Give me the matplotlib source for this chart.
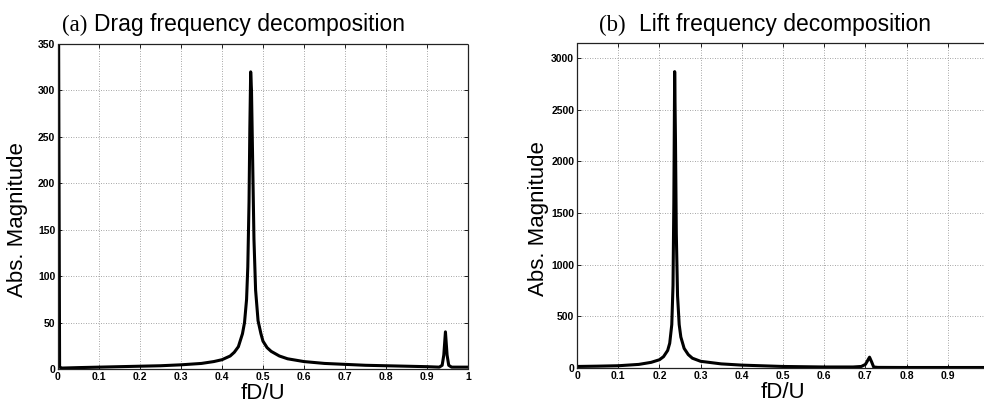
"""
Drag / lift frequency decomposition (FFT magnitude vs. fD/U)
"""

import matplotlib
matplotlib.use('Agg')
import matplotlib.pyplot as plt

# values
drag_fd = [0.0, 0.004, 0.01, 0.05, 0.1, 0.15, 0.2, 0.25, 0.3, 0.35, 0.38, 0.4,
           0.42, 0.43, 0.44, 0.45, 0.455, 0.46, 0.463, 0.466, 0.468, 0.47,
           0.472, 0.475, 0.478, 0.482, 0.488, 0.495, 0.5, 0.51, 0.52, 0.54,
           0.56, 0.6, 0.65, 0.7, 0.75, 0.8, 0.85, 0.9, 0.93, 0.937, 0.941,
           0.945, 0.949, 0.953, 0.96, 1.0]
drag_mag = [600, 2, 1, 1.5, 2, 2.5, 3, 3.5, 4.5, 6, 8, 10,
            14, 18, 24, 38, 50, 75, 110, 180, 260, 320,
            300, 220, 140, 85, 52, 38, 30, 23, 19, 14,
            11, 8, 6, 5, 4, 3.5, 3, 2.5, 2, 4, 15,
            40, 15, 4, 2, 2]

lift_fd = [0.0, 0.05, 0.1, 0.15, 0.18, 0.2, 0.21, 0.22, 0.225, 0.23, 0.233,
           0.235, 0.237, 0.239, 0.241, 0.244, 0.248, 0.252, 0.26, 0.27, 0.28,
           0.3, 0.35, 0.4, 0.5, 0.6, 0.67, 0.69, 0.7, 0.705, 0.71, 0.715,
           0.72, 0.73, 0.8, 0.9, 1.0]
lift_mag = [15, 18, 22, 35, 55, 80, 110, 170, 240, 420, 800,
            1600, 2870, 2200, 1300, 700, 420, 300, 190, 130, 95,
            65, 40, 28, 15, 10, 10, 15, 35, 70, 105, 60,
            10, 6, 5, 5, 5]

x_ticks = [0, 0.1, 0.2, 0.3, 0.4, 0.5, 0.6, 0.7, 0.8, 0.9, 1]
drag_xlabels = ["0", "0.1", "0.2", "0.3", "0.4", "0.5", "0.6", "0.7", "0.8", "0.9", "1"]
# the last label of panel (b) falls outside the picture in the reference
lift_xlabels = ["0", "0.1", "0.2", "0.3", "0.4", "0.5", "0.6", "0.7", "0.8", "0.9", ""]
drag_yticks = [0, 50, 100, 150, 200, 250, 300, 350]
lift_yticks = [0, 500, 1000, 1500, 2000, 2500, 3000]

plt.rcParams['font.family'] = ['Liberation Sans', 'DejaVu Sans']

fig = plt.figure(figsize=(9.84, 4.09), dpi=100)
ax1 = fig.add_axes([0.0589, 0.0978, 0.4167, 0.7946])
ax2 = fig.add_axes([0.5864, 0.1002, 0.4187, 0.7954])


def style_axes(ax, xlabels, yticks, ylim, ylab_x):
    ax.set_xlim(0, 1)
    ax.set_ylim(*ylim)
    ax.set_xticks(x_ticks)
    ax.set_xticklabels(xlabels)
    ax.set_yticks(yticks)
    ax.tick_params(direction='in', length=3, width=0.6, top=True, right=True,
                   labelsize=7.5, pad=2)
    for lab in ax.get_xticklabels() + ax.get_yticklabels():
        lab.set_fontweight('bold')
    ax.grid(True, linestyle=(0, (1, 2)), color='#888888', linewidth=0.6)
    for sp in ax.spines.values():
        sp.set_linestyle((0, (1, 1)))
        sp.set_linewidth(0.9)
        sp.set_color('#222222')
    ax.set_xlabel("fD/U", fontsize=16, labelpad=1)
    ax.set_ylabel("Abs. Magnitude", fontsize=16)
    ax.yaxis.set_label_coords(ylab_x, 0.46)


# 阻力
ax1.plot(drag_fd, drag_mag, color='black', linewidth=2.2)
style_axes(ax1, drag_xlabels, drag_yticks, (0, 350), -0.072)

# 升力
ax2.plot(lift_fd, lift_mag, color='black', linewidth=2.2)
style_axes(ax2, lift_xlabels, lift_yticks, (0, 3150), -0.068)

# titles: serif panel letter + sans text
fig.text(0.063, 0.925, "(a)", fontsize=16.5, family='Liberation Serif', va='baseline')
fig.text(0.096, 0.925, "Drag frequency decomposition", fontsize=16.5, va='baseline')
fig.text(0.609, 0.925, "(b)", fontsize=16.5, family='Liberation Serif', va='baseline')
fig.text(0.649, 0.925, "Lift frequency decomposition", fontsize=16.5, va='baseline')

fig.savefig("out.png", dpi=100)
